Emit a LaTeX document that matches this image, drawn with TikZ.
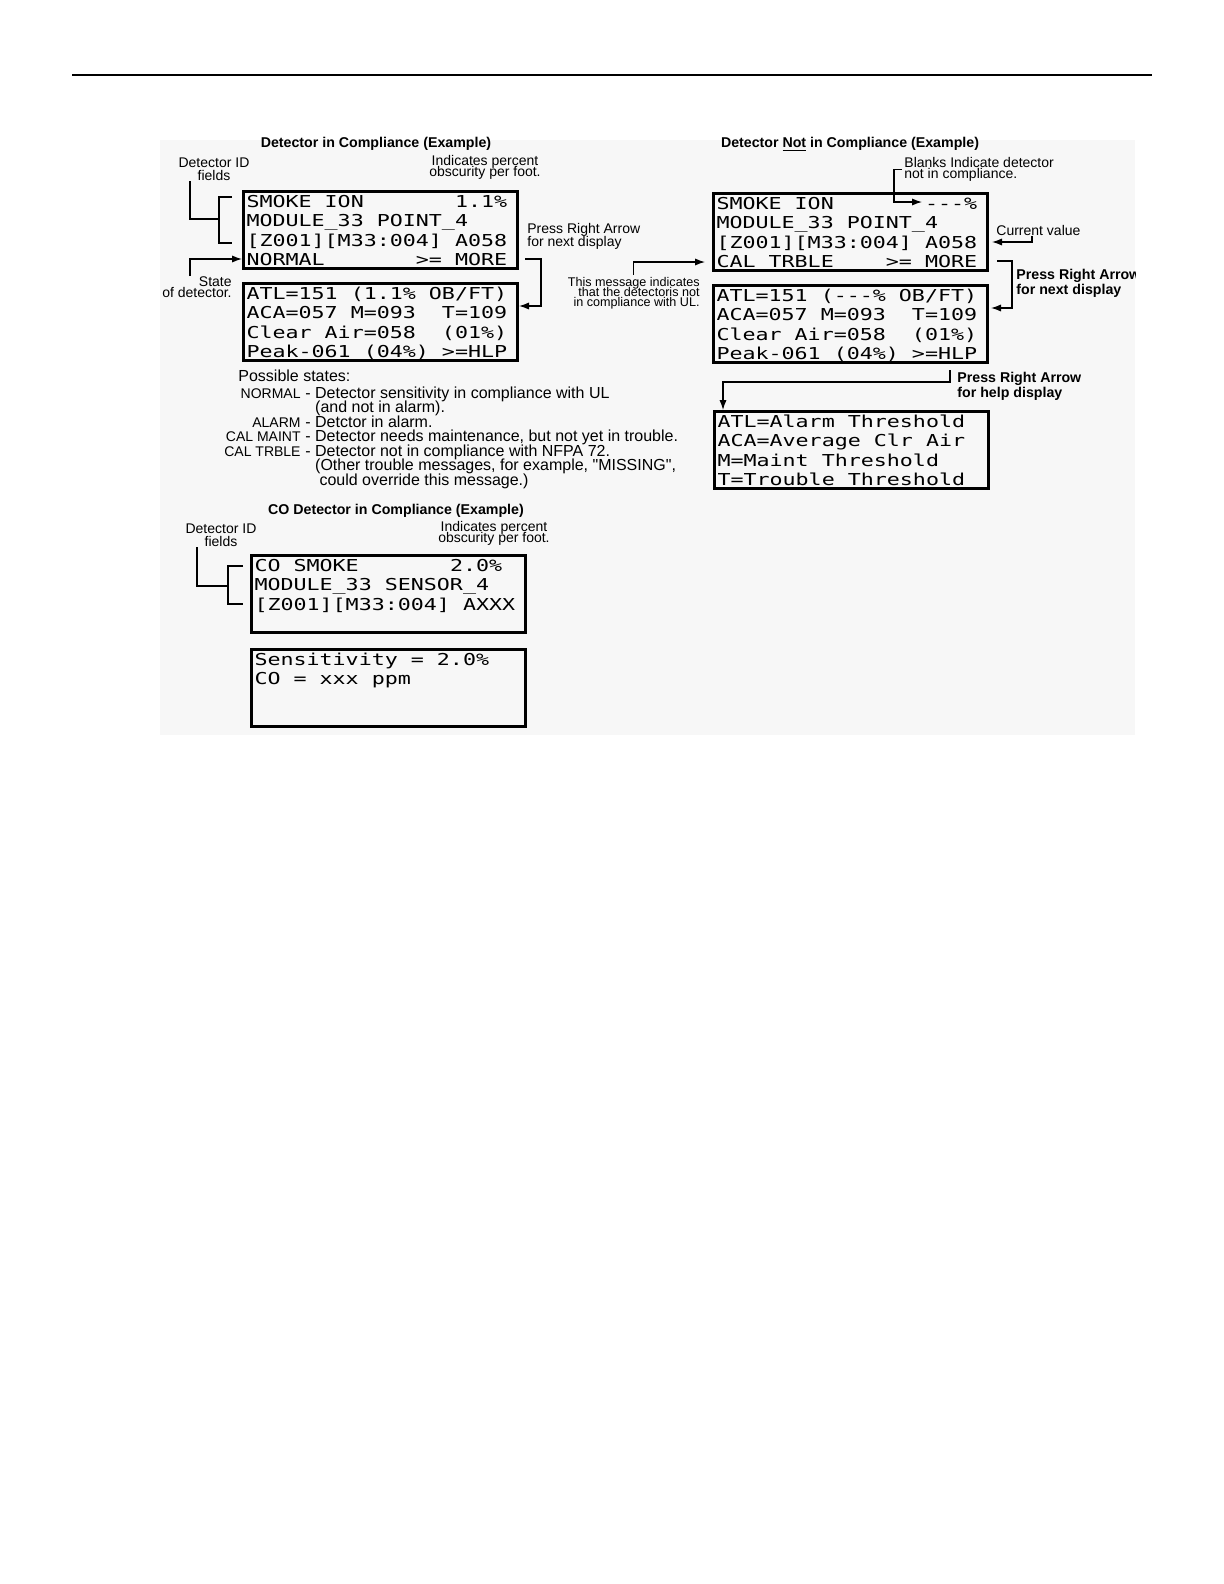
\documentclass[tikz,border=0pt]{standalone}
\usepackage{fontspec}
\setmainfont{Liberation Sans}
\newfontfamily\lcdfont[FakeStretch=1.32]{DejaVu Sans Mono}
\newcommand\lcdsp{\hphantom{0}}
\usetikzlibrary{positioning, arrows.meta}

\begin{document}
\begin{tikzpicture}[x=0.5pt, y=-0.5pt,
    lcd/.style={draw, line width=1.5pt, anchor=north west, inner xsep=1.5pt, inner ysep=0pt, text width=134pt, align=left, font={\lcdfont\fontsize{8.2}{9.7}\selectfont\let~\lcdsp}, text height=7.9pt, text depth=30.6pt},
    hd/.style={font=\bfseries\fontsize{7.1}{8}\selectfont, inner sep=0pt},
    ann/.style={font={\fontsize{7}{6.5}\selectfont\lineskiplimit=-10pt}, inner sep=0pt},
    sm/.style={font={\fontsize{7}{5.5}\selectfont\lineskiplimit=-10pt}, inner sep=0pt},
    st/.style={font=\fontsize{8}{9}\selectfont, inner sep=0pt, anchor=base west},
    lb/.style={font=\fontsize{7}{8}\selectfont, inner sep=0pt, anchor=base east},
    cn/.style={line width=0.6pt},
    ar/.style={line width=0.6pt, -{Latex[length=5pt,width=3.6pt]}}]
  \useasboundingbox (0,0) rectangle (1224,1584);
  \draw[line width=0.6pt] (72,75) -- (1152,75);
  \fill[black!3] (160,140) rectangle (1135,735);

  % detector in compliance
  \node[hd] (ttl1) at (376,144) {Detector in Compliance (Example)};
  \node[lcd] (box1) at (242,190) {SMOKE~ION~~~~~~~1.1\%\\MODULE\_33~POINT\_4\\{}[Z001][M33:004]~A058\\NORMAL~~~~~~~>=~MORE};
  \node[lcd, below=6pt of box1] (box2) {ATL=151~(1.1\%~OB/FT)\\ACA=057~M=093~~T=109\\Clear~Air=058~~(01\%)\\Peak-061~(04\%)~>=HLP};
  \node[ann, align=center] (id1) at (214,169.5) {Detector ID\\fields};
  \node[sm, align=center] (ind1) at (485,167) {Indicates percent\\obscurity per foot.};
  \node[ann, align=left, anchor=west] (nxt1) at (527,236.5) {Press Right Arrow\\for next display};
  \node[sm, align=right, anchor=east] (st1) at (232,287) {State\\of detector.};
  \draw[cn] ([xshift=-12pt]id1.south) |- (219,219);
  \draw[cn] (232,197) -| (219,243) -- (232,243);
  \draw[ar] ([xshift=-3.5pt]st1.north) |- ([yshift=5.5pt]box1.south west);
  \draw[ar] ([xshift=3pt,yshift=5.5pt]box1.south east) -- ++(8pt,0) |- ([yshift=-12pt]box2.north east);

  % possible states
  \node[st] (pst) at (238,381) {Possible states:};
  \node[lb] (l1) at (301,398) {NORMAL};
  \node[st] (d1) at (305,398) {- Detector sensitivity in compliance with UL};
  \node[st] (d2) at (305,412.5) {\phantom{- }(and not in alarm).};
  \node[lb] (l3) at (301,427) {ALARM};
  \node[st] (d3) at (305,427) {- Detctor in alarm.};
  \node[lb] (l4) at (301,441.5) {CAL MAINT};
  \node[st] (d4) at (305,441.5) {- Detector needs maintenance, but not yet in trouble.};
  \node[lb] (l5) at (301,456) {CAL TRBLE};
  \node[st] (d5) at (305,456) {- Detector not in compliance with NFPA 72.};
  \node[st] (d6) at (305,470.5) {\phantom{- }(Other trouble messages, for example, \textquotedbl MISSING\textquotedbl,};
  \node[st] (d7) at (305,485) {\phantom{- }\hspace{2.2pt}could override this message.)};

  % detector not in compliance
  \node[hd] (ttl2) at (850,144) {Detector \underline{Not} in Compliance (Example)};
  \node[lcd] (box3) at (712,192) {SMOKE~ION~~~~~~~-{}-{}-\%\\MODULE\_33~POINT\_4\\{}[Z001][M33:004]~A058\\CAL~TRBLE~~~~>=~MORE};
  \node[lcd, below=6pt of box3] (box4) {ATL=151~(-{}-{}-\%~OB/FT)\\ACA=057~M=093~~T=109\\Clear~Air=058~~(01\%)\\Peak-061~(04\%)~>=HLP};
  \node[lcd] (box7) at (713,410) {ATL=Alarm~Threshold\\ACA=Average~Clr~Air\\M=Maint~Threshold\\T=Trouble~Threshold};
  \node[sm, align=left, anchor=west] (blk) at (904,169.5) {Blanks Indicate detector\\not in compliance.};
  \node[ann, anchor=west] (cur) at (996,230) {Current value};
  \begin{scope}
    \clip (0,0) rectangle (1135,1584);
    \node[hd, align=left, anchor=west, font=\bfseries\fontsize{7.1}{6.5}\selectfont] (nxt2) at (1016,283.5) {Press Right Arrow\\for next display};
  \end{scope}
  \node[inner sep=0pt, align=right, anchor=east, font={\fontsize{6.3}{5}\selectfont\lineskiplimit=-10pt}] (msg) at (700,293) {This message indicates\\that the detectoris not\\in compliance with UL.};
  \node[hd, align=left, anchor=west, font=\bfseries\fontsize{7.1}{6.5}\selectfont] (hlp) at (957,386) {Press Right Arrow\\for help display};
  \draw[ar] ([yshift=1pt]msg.north) |- ([xshift=-3.5pt,yshift=5pt]box3.south west);
  \draw[ar] ([xshift=-1pt]blk.west) -- ++(-4pt,0) |- ([xshift=105pt,yshift=-5pt]box3.north west);
  \draw[ar] ([xshift=18pt]cur.south west) |- ([xshift=1.5pt,yshift=-25pt]box3.north east);
  \draw[ar] ([xshift=4pt,yshift=5.5pt]box3.south east) -- ++(7.5pt,0) |- ([xshift=1pt,yshift=-12pt]box4.north east);
  \draw[ar] ([xshift=-19.5pt,yshift=-3pt]box4.south east) -- ++(0,-6pt) -| ([xshift=5pt]box7.north west);

  % co detector
  \node[hd] (ttl3) at (396,511) {CO Detector in Compliance (Example)};
  \node[ann, align=center] (id2) at (221,535.5) {Detector ID\\fields};
  \node[sm, align=center] (ind2) at (494,533.5) {Indicates percent\\obscurity per foot.};
  \node[lcd] (box5) at (250,554) {CO~SMOKE~~~~~~~2.0\%\\MODULE\_33~SENSOR\_4\\{}[Z001][M33:004]~AXXX};
  \node[lcd, below=7pt of box5] (box6) {Sensitivity~=~2.0\%\\CO~=~xxx~ppm};
  \draw[cn] ([xshift=-12pt]id2.south) |- (228,586);
  \draw[cn] (243,566) -| (228,604) -- (243,604);
\end{tikzpicture}
\end{document}
